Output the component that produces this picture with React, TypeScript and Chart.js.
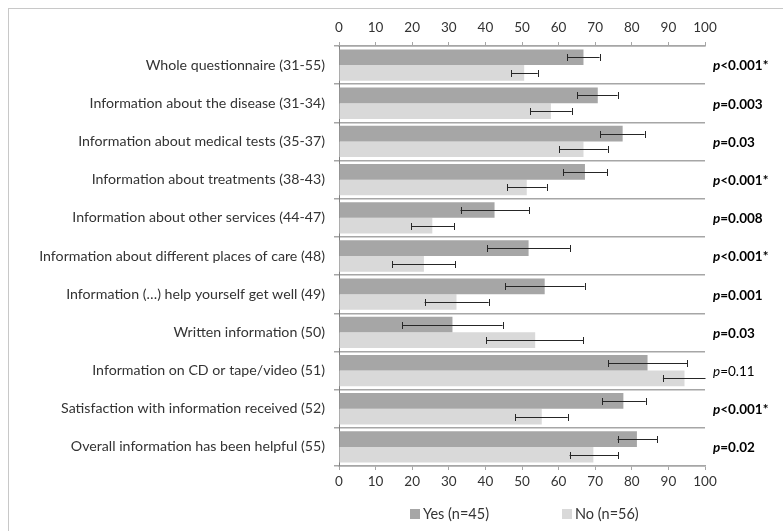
import React, { useEffect, useRef } from "react";
import { Chart, registerables } from "chart.js";

Chart.register(...registerables);

const categories = [
  "Whole questionnaire (31-55)",
  "Information about the disease (31-34)",
  "Information about medical tests (35-37)",
  "Information about treatments (38-43)",
  "Information about other services (44-47)",
  "Information about different places of care (48)",
  "Information (\u2026) help yourself get well (49)",
  "Written information (50)",
  "Information on CD or tape/video (51)",
  "Satisfaction with information received (52)",
  "Overall information has been helpful (55)",
];

const yesValues = [66.8, 70.7, 77.5, 67.2, 42.5, 51.8, 56.2, 31.0, 84.3, 77.7, 81.4];
const yesLow = [62.4, 65.1, 71.4, 61.3, 33.2, 40.5, 45.4, 17.3, 73.5, 71.9, 76.1];
const yesHigh = [71.2, 76.1, 83.5, 73.2, 51.9, 63.1, 67.1, 44.7, 95.1, 83.8, 86.9];

const noValues = [50.6, 57.9, 66.8, 51.3, 25.5, 23.2, 32.1, 53.6, 94.4, 55.4, 69.5];
const noLow = [47.0, 52.3, 60.2, 45.9, 19.7, 14.5, 23.4, 40.3, 88.5, 48.1, 63.0];
const noHigh = [54.3, 63.6, 73.4, 56.7, 31.4, 31.8, 40.9, 66.8, 101, 62.5, 76.3];

const pLabels = ["<0.001*", "=0.003", "=0.03", "<0.001*", "=0.008", "<0.001*", "=0.001", "=0.03", "=0.11", "<0.001*", "=0.02"];
const pBold = [true, true, true, true, true, true, true, true, false, true, true];

const seriesNames = ["Yes (n=45)", "No (n=56)"];
const seriesColors = ["#a6a6a6", "#d9d9d9"];

const FONT = "Lato, 'Open Sans', sans-serif";
const TEXT = "#333333";

const errorBarPlugin = {
  id: "errorBars",
  afterDatasetsDraw(chart: any) {
    const ctx = chart.ctx;
    const xs = chart.scales.x;
    const area = chart.chartArea;
    const lows = [yesLow, noLow];
    const highs = [yesHigh, noHigh];
    ctx.save();
    ctx.beginPath();
    ctx.rect(area.left, area.top - 5, area.right - area.left + 0.5, area.bottom - area.top + 10);
    ctx.clip();
    ctx.strokeStyle = "#262626";
    ctx.lineWidth = 1;
    for (let d = 0; d < 2; d++) {
      const meta = chart.getDatasetMeta(d);
      meta.data.forEach((el: any, i: number) => {
        const y = Math.round(el.y) + 0.5;
        const x1 = xs.getPixelForValue(lows[d][i]);
        const x2 = xs.getPixelForValue(highs[d][i]);
        ctx.beginPath();
        ctx.moveTo(x1, y);
        ctx.lineTo(x2, y);
        ctx.moveTo(Math.round(x1) + 0.5, y - 3.5);
        ctx.lineTo(Math.round(x1) + 0.5, y + 3.5);
        if (highs[d][i] <= 100) {
          ctx.moveTo(Math.round(x2) + 0.5, y - 3.5);
          ctx.lineTo(Math.round(x2) + 0.5, y + 3.5);
        }
        ctx.stroke();
      });
    }
    ctx.restore();
  },
};

const sidePlugin = {
  id: "sideLabels",
  afterDraw(chart: any) {
    const ctx = chart.ctx;
    const ys = chart.scales.y;
    const area = chart.chartArea;
    ctx.save();
    ctx.textBaseline = "middle";
    ctx.textAlign = "left";
    ctx.fillStyle = "#000000";
    pLabels.forEach((lab, i) => {
      const y = ys.getPixelForValue(i) + 1;
      let x = area.right + 8;
      const w = pBold[i] ? "bold " : "";
      ctx.font = `italic ${w}13.5px ${FONT}`;
      ctx.fillText("p", x, y);
      x += ctx.measureText("p").width;
      ctx.font = `${w}13.5px ${FONT}`;
      ctx.fillText(lab, x, y);
    });
    // legend
    const legendY = 514;
    const starts = [410, 562];
    ctx.font = `14.5px ${FONT}`;
    seriesNames.forEach((name, i) => {
      ctx.fillStyle = seriesColors[i];
      ctx.fillRect(starts[i], legendY - 5, 10, 10);
      ctx.fillStyle = TEXT;
      ctx.fillText(name, starts[i] + 13, legendY);
    });
    ctx.restore();
  },
};

export default function App() {
  const ref = useRef<HTMLCanvasElement>(null);
  useEffect(() => {
    if (!ref.current) return;
    const tickFont = { family: FONT, size: 13.5 };
    const chart = new Chart(ref.current, {
      type: "bar",
      data: {
        labels: categories,
        datasets: [
          { label: seriesNames[0], data: yesValues, backgroundColor: seriesColors[0], categoryPercentage: 0.82, barPercentage: 1 },
          { label: seriesNames[1], data: noValues, backgroundColor: seriesColors[1], categoryPercentage: 0.82, barPercentage: 1 },
        ],
      },
      options: {
        indexAxis: "y",
        responsive: false,
        animation: false,
        layout: { padding: { left: 0, right: 78, top: 0, bottom: 35 } },
        plugins: { legend: { display: false }, tooltip: { enabled: false } },
        scales: {
          x: {
            type: "linear",
            position: "bottom",
            min: 0,
            max: 100,
            ticks: { stepSize: 10, font: tickFont, color: TEXT, padding: 4 },
            grid: { drawOnChartArea: false, drawTicks: true, tickLength: 4, color: "#a6a6a6" },
            border: { color: "#a6a6a6", width: 1.5 },
            afterFit: (s: any) => { s.height = 30; },
          },
          x2: {
            type: "linear",
            position: "top",
            min: 0,
            max: 100,
            ticks: { stepSize: 10, font: tickFont, color: TEXT, padding: 6 },
            grid: { drawOnChartArea: false, drawTicks: true, tickLength: 4, color: "#a6a6a6" },
            border: { color: "#a6a6a6", width: 1.5 },
            afterFit: (s: any) => { s.height = 46; },
          },
          y: {
            type: "category",
            position: "left",
            ticks: { font: { family: FONT, size: 14.2 }, color: TEXT, padding: 9 },
            grid: { offset: true, color: "#a6a6a6", lineWidth: 1.5, tickLength: 5 },
            border: { color: "#808080", width: 1 },
            afterFit: (s: any) => { s.width = 339; },
          },
        },
      } as any,
      plugins: [errorBarPlugin, sidePlugin],
    });
    return () => chart.destroy();
  }, []);
  return (
    <div style={{ position: "absolute", left: 0, top: 0, width: 783, height: 531, overflow: "hidden", background: "#fff" }}>
      <div style={{ position: "absolute", left: 8, top: 8, width: 900, height: 700, border: "1px solid #c8c8c8" }} />
      <canvas ref={ref} width={783} height={531} style={{ position: "absolute", left: 0, top: 0 }} />
    </div>
  );
}
